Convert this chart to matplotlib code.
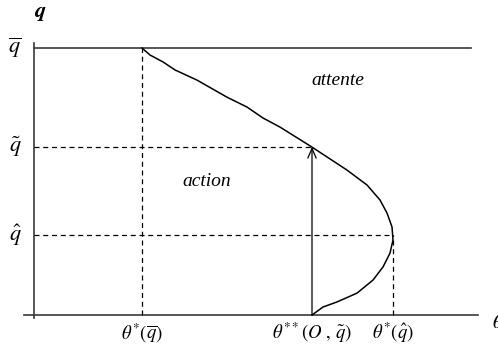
import matplotlib
matplotlib.use("Agg")
import matplotlib.pyplot as plt

plt.rcParams['mathtext.fontset'] = 'stix'
plt.rcParams['font.family'] = ['Liberation Serif', 'DejaVu Serif']

# levels of q and the thresholds on theta
q_bar = 1.00
q_tilde = 0.63
q_hat = 0.30
theta_star_qbar = 1.08
theta_2star = 2.78
theta_star_qhat = 3.59

# frontier between "action" and "attente"
curve_theta = [1.08, 1.16, 1.29, 1.41, 1.63, 1.93, 2.13, 2.29, 2.46, 2.78,
               3.13, 3.33, 3.46, 3.53, 3.58, 3.59, 3.56, 3.49, 3.39, 3.23,
               3.03, 2.89, 2.78]
curve_q = [1.00, 0.974, 0.948, 0.918, 0.880, 0.816, 0.779, 0.738, 0.704, 0.629,
           0.543, 0.487, 0.431, 0.382, 0.330, 0.281, 0.232, 0.180, 0.131, 0.082,
           0.049, 0.030, 0.0]

x_labels = [r'$\theta^{*}(\overline{q})$', r'$\theta^{**}(O\ ,\,\tilde{q})$',
            r'$\theta^{*}(\hat{q})$']
y_labels = [r'$\overline{q}$', r'$\tilde{q}$', r'$\hat{q}$']

fig = plt.figure(figsize=(4.98, 3.46), dpi=100)
ax = fig.add_axes([0, 0, 1, 1])
ax.set_xlim(-0.34, 4.64)
ax.set_ylim(-0.116, 1.18)
ax.axis('off')

ax_col = '#3a3a3a'
# axes
ax.plot([-0.10, 4.44], [0, 0], color=ax_col, lw=1.2)
ax.plot([0, 0], [-0.012, 1.02], color=ax_col, lw=1.2)
ax.plot([0, 4.37], [q_bar, q_bar], color=ax_col, lw=1.2)

dash = (0, (4, 3))
ax.plot([0, theta_2star], [q_tilde, q_tilde], color='k', lw=0.9, linestyle=dash)
ax.plot([0, theta_star_qhat], [q_hat, q_hat], color='k', lw=0.9, linestyle=dash)
ax.plot([theta_star_qbar, theta_star_qbar], [0, q_bar], color='k', lw=0.9, linestyle=dash)
ax.plot([theta_star_qhat, theta_star_qhat], [0, q_hat], color='k', lw=0.9, linestyle=dash)

ax.plot(curve_theta, curve_q, color='k', lw=1.1)

ax.annotate('', xy=(theta_2star, q_tilde), xytext=(theta_2star, 0),
            arrowprops=dict(arrowstyle='->,head_length=0.7,head_width=0.3',
                            color='k', lw=0.9, shrinkA=0, shrinkB=0))

# tick labels
for xv, lab in zip([theta_star_qbar, theta_2star, theta_star_qhat], x_labels):
    ax.text(xv, -0.068, lab, ha='center', va='center', fontsize=13.5)
for yv, lab in zip([q_bar, q_tilde, q_hat], y_labels):
    ax.text(-0.19, yv, lab, ha='center', va='center', fontsize=16)

ax.text(0.06, 1.13, r'$\boldsymbol{q}$', ha='center', va='center', fontsize=16)
ax.text(4.58, -0.03, r'$\theta$', ha='left', va='center', fontsize=15)

ax.text(3.04, 0.88, 'attente', style='italic', ha='center', va='center', fontsize=14)
ax.text(1.73, 0.50, 'action', style='italic', ha='center', va='center', fontsize=14)

fig.savefig('out.png', dpi=100)
